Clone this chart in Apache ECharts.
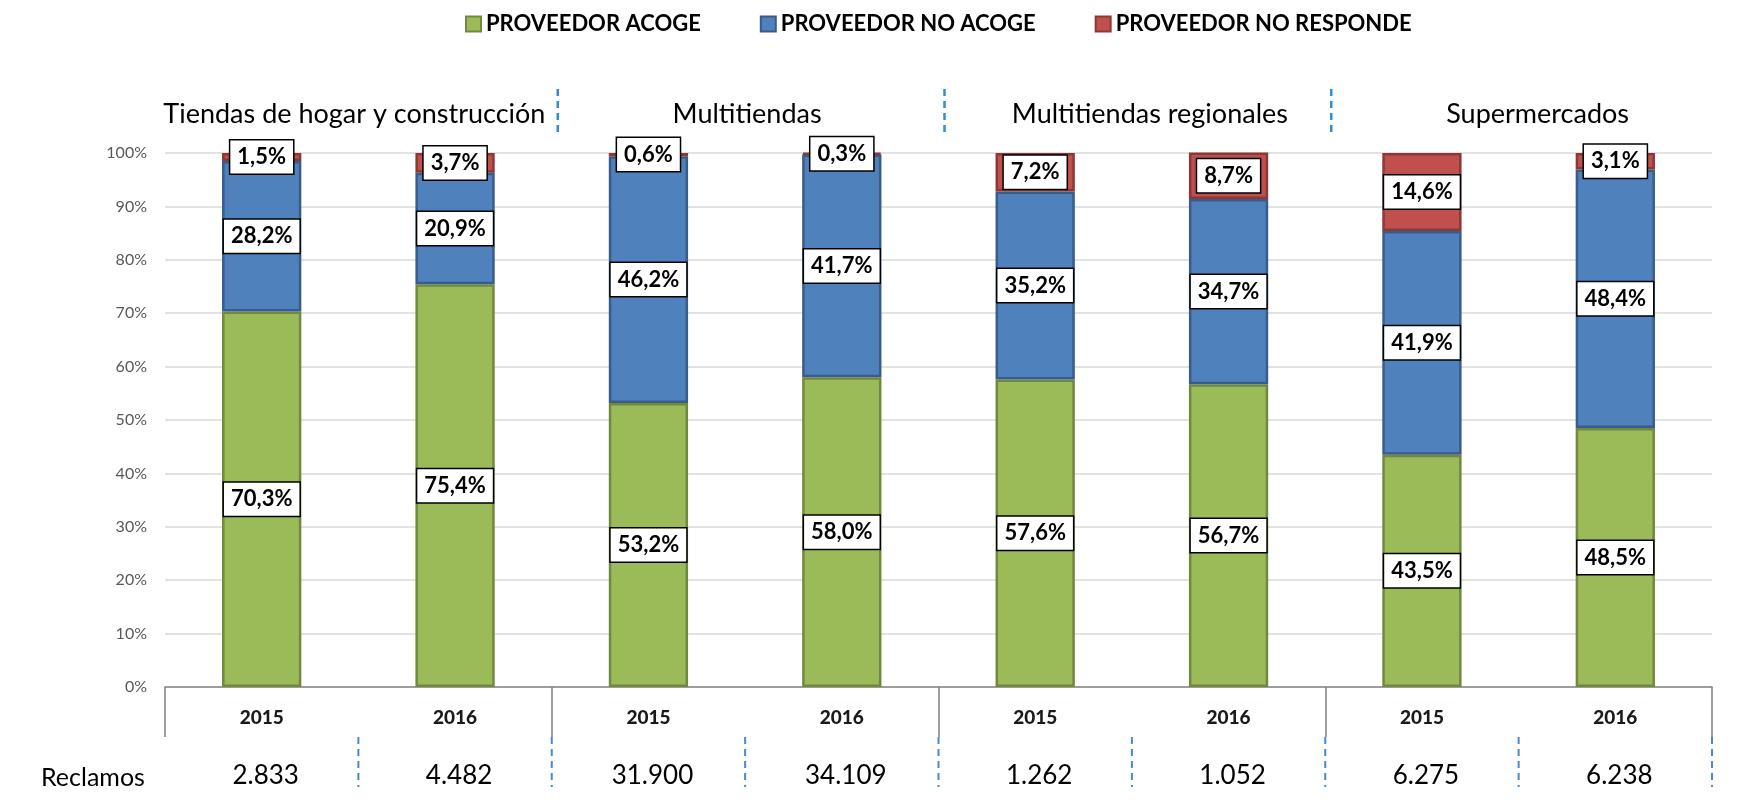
<!DOCTYPE html>
<html>
<head>
<meta charset="utf-8">
<style>
  html, body { margin: 0; padding: 0; background: #fff; }
  #chart { width: 1751px; height: 800px; }
</style>
<script src="https://cdn.jsdelivr.net/npm/echarts@6/dist/echarts.min.js"></script>
</head>
<body>
<div id="chart"></div>
<script>
// Categories: two years per store type
const years = ['2015', '2016', '2015', '2016', '2015', '2016', '2015', '2016'];
const groups = ['Tiendas de hogar y construcción', 'Multitiendas', 'Multitiendas regionales', 'Supermercados'];

// Share of complaints by provider response (%)
const acoge      = [70.3, 75.4, 53.2, 58.0, 57.6, 56.7, 43.5, 48.5];
const noAcoge    = [28.2, 20.9, 46.2, 41.7, 35.2, 34.7, 41.9, 48.4];
const noResponde = [1.5, 3.7, 0.6, 0.3, 7.2, 8.7, 14.6, 3.1];

// Total complaints per bar
const reclamos = ['2.833', '4.482', '31.900', '34.109', '1.262', '1.052', '6.275', '6.238'];

const FONT = 'Lato, "Noto Sans", sans-serif';

const chart = echarts.init(document.getElementById('chart'), null, { renderer: 'canvas' });

const pct = v => v.toFixed(1).replace('.', ',') + '%';

const boxLabel = {
  show: true,
  position: 'inside',
  formatter: p => pct(p.value),
  backgroundColor: '#ffffff',
  borderColor: '#000000',
  borderWidth: 1.5,
  padding: [6, 7, 5, 7],
  color: '#000000',
  fontFamily: FONT,
  fontWeight: 'bold',
  fontSize: 22
};

function barSeries(name, data, fill, edge) {
  return {
    name, type: 'bar', stack: 'total', data,
    barWidth: '41%',
    itemStyle: { color: fill, borderColor: edge, borderWidth: 2.5 },
    label: boxLabel,
    emphasis: { disabled: true }
  };
}

chart.setOption({
  animation: false,
  legend: {
    left: 460, top: 8,
    icon: 'rect',
    itemWidth: 15, itemHeight: 15, itemGap: 59, padding: [5, 5],
    textStyle: { fontFamily: FONT, fontWeight: 'bold', fontSize: 22, color: '#000', padding: [0, 0, 0, 0] }
  },
  grid: { left: 165, right: 39, top: 153, bottom: 113 },
  xAxis: [
    {
      type: 'category', data: years,
      axisLine: { lineStyle: { color: '#868686', width: 1.5 } },
      axisTick: { show: false },
      axisLabel: { margin: 21, fontFamily: FONT, fontWeight: 900, fontSize: 19, color: '#1a1a1a' }
    },
    {
      type: 'category', data: groups, position: 'bottom',
      axisLine: { show: false },
      axisLabel: { show: false },
      axisTick: { show: true, length: 50, interval: 0, lineStyle: { color: '#7f7f7f', width: 1.5 } }
    }
  ],
  yAxis: {
    type: 'value', min: 0, max: 100, interval: 10,
    axisLine: { show: false }, axisTick: { show: false },
    axisLabel: { formatter: '{value}%', margin: 18, fontFamily: FONT, fontSize: 16, color: '#595959' },
    splitLine: { lineStyle: { color: '#d9d9d9', width: 1.5 } }
  },
  series: [
    barSeries('PROVEEDOR ACOGE', acoge, '#9bbb59', '#71893f'),
    barSeries('PROVEEDOR NO ACOGE', noAcoge, '#4f81bd', '#385d8a'),
    barSeries('PROVEEDOR NO RESPONDE', noResponde, '#c0504d', '#8c3836')
  ]
});

// Group titles, separators and the complaints row, placed from the axis scales
const xAt = i => chart.convertToPixel({ xAxisIndex: 0 }, i);
const yAt = v => chart.convertToPixel({ yAxisIndex: 0 }, v);
const band = xAt(1) - xAt(0);
const yTop = yAt(100), yZero = yAt(0);
const titleShift = [-4, 2, 18, 19];

const elements = [];
groups.forEach((g, k) => {
  const cx = (xAt(2 * k) + xAt(2 * k + 1)) / 2 + titleShift[k];
  elements.push({
    type: 'text', x: cx, y: yTop - 39,
    style: { text: g, fill: '#000', font: '27px ' + FONT, align: 'center', verticalAlign: 'middle' }
  });
});
[2, 4, 6].forEach(i => {
  const bx = xAt(i) - band / 2 + 6;
  elements.push({
    type: 'line', shape: { x1: bx, y1: yTop - 64, x2: bx, y2: yTop - 17 },
    style: { stroke: '#2e90d0', lineWidth: 2.5, lineDash: [7, 5] }
  });
});
reclamos.forEach((r, i) => {
  elements.push({
    type: 'text', x: xAt(i) + 4, y: yZero + 89,
    style: { text: r, fill: '#000', font: '26px ' + FONT, align: 'center', verticalAlign: 'middle' }
  });
  const bx = xAt(i) + band / 2;
  elements.push({
    type: 'line', shape: { x1: bx, y1: yZero + 50, x2: bx, y2: yZero + 100 },
    style: { stroke: '#4a88d4', lineWidth: 2, lineDash: [7, 5] }
  });
});
elements.push({
  type: 'text', x: 41, y: yZero + 91,
  style: { text: 'Reclamos', fill: '#000', font: '25px ' + FONT, align: 'left', verticalAlign: 'middle' }
});

chart.setOption({ graphic: { elements } });
</script>
</body>
</html>
